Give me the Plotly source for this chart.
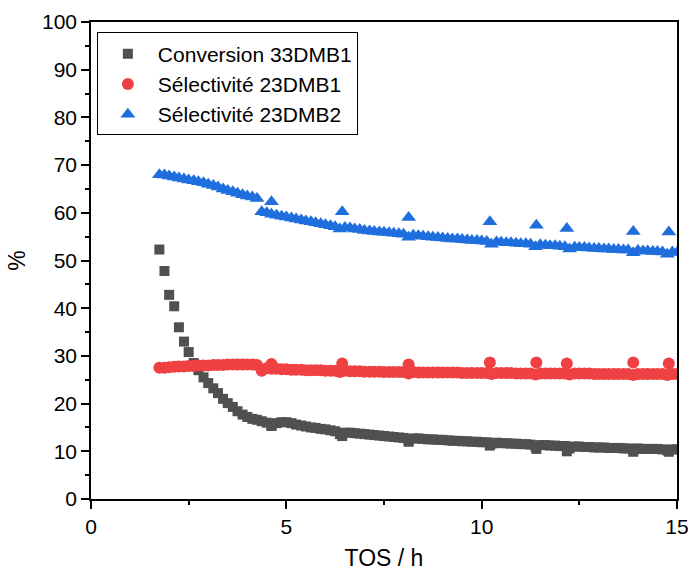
import plotly.graph_objects as go

# regular time grid of the main measurements (h)
tos = [1.75, 1.88, 2.0, 2.13, 2.25, 2.38, 2.5, 2.63, 2.75, 2.88, 3.0, 3.13, 3.25, 3.38, 3.5,
       3.63, 3.75, 3.88, 4.0, 4.13, 4.25, 4.37, 4.5, 4.62, 4.75, 4.88, 5.0, 5.13, 5.25, 5.38,
       5.5, 5.63, 5.75, 5.88, 6.0, 6.13, 6.25, 6.37, 6.5, 6.63, 6.75, 6.88, 7.0, 7.13, 7.25,
       7.38, 7.5, 7.63, 7.75, 7.88, 8.0, 8.13, 8.25, 8.38, 8.5, 8.63, 8.75, 8.88, 9.0, 9.13,
       9.25, 9.38, 9.5, 9.63, 9.75, 9.88, 10.0, 10.13, 10.25, 10.38, 10.5, 10.63, 10.75, 10.88,
       11.0, 11.13, 11.25, 11.38, 11.5, 11.63, 11.75, 11.88, 12.0, 12.13, 12.25, 12.38, 12.5,
       12.63, 12.75, 12.88, 13.0, 13.13, 13.25, 13.38, 13.5, 13.63, 13.75, 13.88, 14.0, 14.13,
       14.25, 14.38, 14.5, 14.63, 14.75, 14.88, 15.0]

conv_33dmb1 = [52.3, 47.8, 42.8, 40.4, 36.0, 33.0, 30.8, 28.5, 27.0, 25.5, 24.3, 23.2, 22.2, 21.0, 20.1,
               19.3, 18.4, 17.7, 17.2, 16.8, 16.6, 16.3, 16.0, 15.4, 15.9, 16.1, 16.1, 15.9, 15.6, 15.4,
               15.2, 15.0, 14.9, 14.7, 14.6, 14.4, 14.2, 13.6, 13.9, 13.9, 13.8, 13.7, 13.6, 13.5, 13.4,
               13.3, 13.2, 13.1, 13.0, 12.9, 12.8, 12.4, 12.7, 12.7, 12.6, 12.5, 12.5, 12.4, 12.4, 12.3,
               12.2, 12.2, 12.1, 12.1, 12.0, 12.0, 11.9, 11.9, 11.6, 11.8, 11.7, 11.7, 11.6, 11.6,
               11.5, 11.5, 11.4, 11.0, 11.3, 11.3, 11.2, 11.2, 11.1, 11.1, 10.6, 11.0, 11.0,
               10.9, 10.9, 10.8, 10.8, 10.8, 10.7, 10.7, 10.7, 10.6, 10.6, 10.3, 10.6, 10.5,
               10.5, 10.5, 10.5, 10.4, 10.2, 10.4, 10.4]

sel_23dmb1 = [27.5, 27.5, 27.6, 27.7, 27.8, 27.8, 27.9, 27.9, 28.0, 28.0, 28.0, 28.1, 28.1, 28.1, 28.2,
              28.2, 28.2, 28.2, 28.2, 28.2, 28.1, 26.9, 27.4, 27.3, 27.3, 27.2, 27.2, 27.1, 27.1, 27.1,
              27.0, 27.0, 27.0, 27.0, 26.9, 26.9, 26.9, 26.6, 26.9, 26.8, 26.8, 26.8, 26.7, 26.7, 26.7,
              26.7, 26.6, 26.6, 26.6, 26.6, 26.6, 26.3, 26.6, 26.5, 26.5, 26.5, 26.5, 26.5, 26.5, 26.5,
              26.5, 26.5, 26.4, 26.4, 26.4, 26.4, 26.4, 26.4, 26.2, 26.4, 26.4, 26.4, 26.4, 26.3,
              26.3, 26.3, 26.3, 26.1, 26.3, 26.3, 26.3, 26.3, 26.3, 26.3, 26.1, 26.3, 26.3,
              26.3, 26.3, 26.2, 26.2, 26.2, 26.2, 26.2, 26.2, 26.2, 26.2, 26.0, 26.2, 26.2,
              26.2, 26.2, 26.2, 26.2, 26.0, 26.2, 26.2]

sel_23dmb2 = [68.0, 67.9, 67.7, 67.5, 67.3, 67.1, 66.9, 66.7, 66.5, 66.3, 66.0, 65.7, 65.4, 65.0, 64.7,
              64.4, 64.1, 63.8, 63.5, 63.3, 63.0, 60.2, 60.0, 59.7, 59.5, 59.3, 59.1, 58.9, 58.7, 58.5,
              58.3, 58.1, 57.9, 57.7, 57.5, 57.3, 57.1, 56.6, 56.9, 56.8, 56.6, 56.5, 56.3, 56.2, 56.1,
              56.0, 55.9, 55.8, 55.7, 55.6, 55.5, 54.9, 55.3, 55.2, 55.1, 55.0, 54.9, 54.8, 54.7, 54.6,
              54.5, 54.5, 54.4, 54.3, 54.2, 54.2, 54.1, 54.0, 53.4, 53.9, 53.8, 53.7, 53.7, 53.6,
              53.5, 53.5, 53.4, 52.9, 53.3, 53.2, 53.1, 53.1, 53.0, 52.9, 52.4, 52.8, 52.7,
              52.7, 52.6, 52.5, 52.5, 52.4, 52.4, 52.3, 52.3, 52.2, 52.2, 51.6, 52.1, 52.0,
              52.0, 51.9, 51.9, 51.8, 51.3, 51.8, 51.7]

# separate check measurements (h) that sit off the main trend
tos_check = [4.62, 6.43, 8.13, 10.21, 11.40, 12.18, 13.88, 14.79]
conv_check = [15.3, 13.2, 12.0, 11.2, 10.5, 10.0, 9.9, 9.9]
sel1_check = [28.3, 28.4, 28.2, 28.6, 28.6, 28.4, 28.6, 28.4]
sel2_check = [62.3, 60.2, 59.0, 58.1, 57.4, 56.7, 56.1, 56.0]

names = ["Conversion 33DMB1", "Sélectivité 23DMB1", "Sélectivité 23DMB2"]
colors = ["#505050", "#EF4143", "#1E6EDD"]
symbols = ["square", "circle", "triangle-up"]
sizes = [10, 12, 13]

series = [conv_33dmb1 + conv_check, sel_23dmb1 + sel1_check, sel_23dmb2 + sel2_check]
xs = tos + tos_check

fig = go.Figure()
for name, ys, col, sym, sz in zip(names, series, colors, symbols, sizes):
    fig.add_trace(go.Scatter(
        x=xs, y=ys, mode="markers", name=name,
        marker=dict(symbol=sym, size=sz, color=col, line=dict(width=0)),
    ))

font_family = "Arial, Liberation Sans, sans-serif"
axis_common = dict(
    showline=True, linecolor="black", linewidth=1.5, mirror=True,
    ticks="outside", ticklen=8, tickwidth=1.5, tickcolor="black",
    showgrid=False, zeroline=False, automargin=False,
    ticklabeloverflow="allow",
    tickfont=dict(family=font_family, size=21, color="black"),
)

fig.update_xaxes(
    range=[0, 15], tickvals=[0, 5, 10, 15],
    minor=dict(ticks="outside", ticklen=4, tickwidth=1.5, tickcolor="black", dtick=2.5),
    title=dict(text="TOS / h", font=dict(family=font_family, size=23, color="black"), standoff=22),
    **axis_common,
)
fig.update_yaxes(
    range=[0, 100], dtick=10,
    minor=dict(ticks="outside", ticklen=4, tickwidth=1.5, tickcolor="black", dtick=5),
    title=dict(text="%", font=dict(family=font_family, size=23, color="black"), standoff=10),
    **axis_common,
)

fig.update_layout(
    width=688, height=571,
    margin=dict(l=91, r=11, t=22, b=72),
    paper_bgcolor="white", plot_bgcolor="white",
    font=dict(family=font_family, color="black"),
    legend=dict(
        x=0.01, y=0.978, xanchor="left", yanchor="top",
        bgcolor="white", bordercolor="black", borderwidth=1,
        font=dict(family=font_family, size=21, color="black"),
        itemwidth=50,
    ),
)

# remove the default page margin so the figure fills the window exactly
fig.write_html(
    "out.html",
    config={"displayModeBar": False},
    post_script="document.body.style.margin='0';document.body.style.overflow='hidden';",
)
